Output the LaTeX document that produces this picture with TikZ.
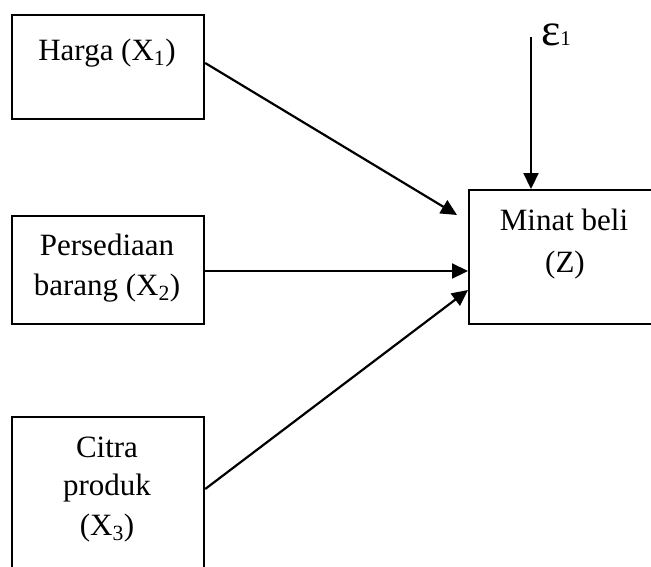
\documentclass[tikz,border=0pt]{standalone}
\usepackage{fontspec}
\setmainfont{Liberation Serif}
\usetikzlibrary{arrows.meta,calc}
\begin{document}
\begin{tikzpicture}[x=1pt,y=-1pt,line width=2.2pt,
  box/.style={draw,line width=2.2pt,inner sep=0pt,anchor=north west},
  lbl/.style={font=\fontsize{31}{40}\selectfont,anchor=base,inner sep=0pt},
  arr/.style={line width=2.2pt,-{Triangle[length=16pt,width=15pt]}}]
\useasboundingbox (0,0) rectangle (651,566);
\clip (0,0) rectangle (651,566);
% boxes
\node[box,minimum width=192pt,minimum height=104pt] (harga) at (11,14) {};
\node[box,minimum width=192pt,minimum height=108pt] (pers) at (11,215) {};
\node[box,minimum width=192pt,minimum height=175pt] (citra) at (11,416) {};
\node[box,minimum width=200pt,minimum height=134pt] (minat) at (468,189) {};
% labels
\node[lbl] (t1) at (107,60) {Harga (X\textsubscript{1})};
\node[lbl] (t2a) at (107,255) {Persediaan};
\node[lbl] (t2b) at (107,295) {barang (X\textsubscript{2})};
\node[lbl] (t3a) at (107,457) {Citra};
\node[lbl] (t3b) at (107,495) {produk};
\node[lbl] (t3c) at (107,535) {(X\textsubscript{3})};
\node[lbl] (t4a) at (564,230) {Minat beli};
\node[lbl] (t4b) at (565,272) {(Z)};
\node[anchor=base west,inner sep=0pt] (eps) at (540,45)
  {\fontsize{46}{46}\selectfont ε\fontsize{21}{21}\selectfont 1};
% connectors
\coordinate (epstop) at (531,37);
\coordinate (a1s) at ($(harga.north east)+(0,49)$);
\coordinate (a1e) at ($(minat.north west)+(-11,26)$);
\coordinate (a2s) at ($(pers.north east)+(0,56)$);
\coordinate (a3s) at ($(citra.north east)+(0,73)$);
\coordinate (a3e) at ($(minat.north west)+(0,101)$);
\draw[arr] (epstop) -- (epstop |- minat.north);
\draw[arr] (a1s) -- (a1e);
\draw[arr] (a2s) -- (a2s -| minat.west);
\draw[arr] (a3s) -- (a3e);
\end{tikzpicture}
\end{document}
